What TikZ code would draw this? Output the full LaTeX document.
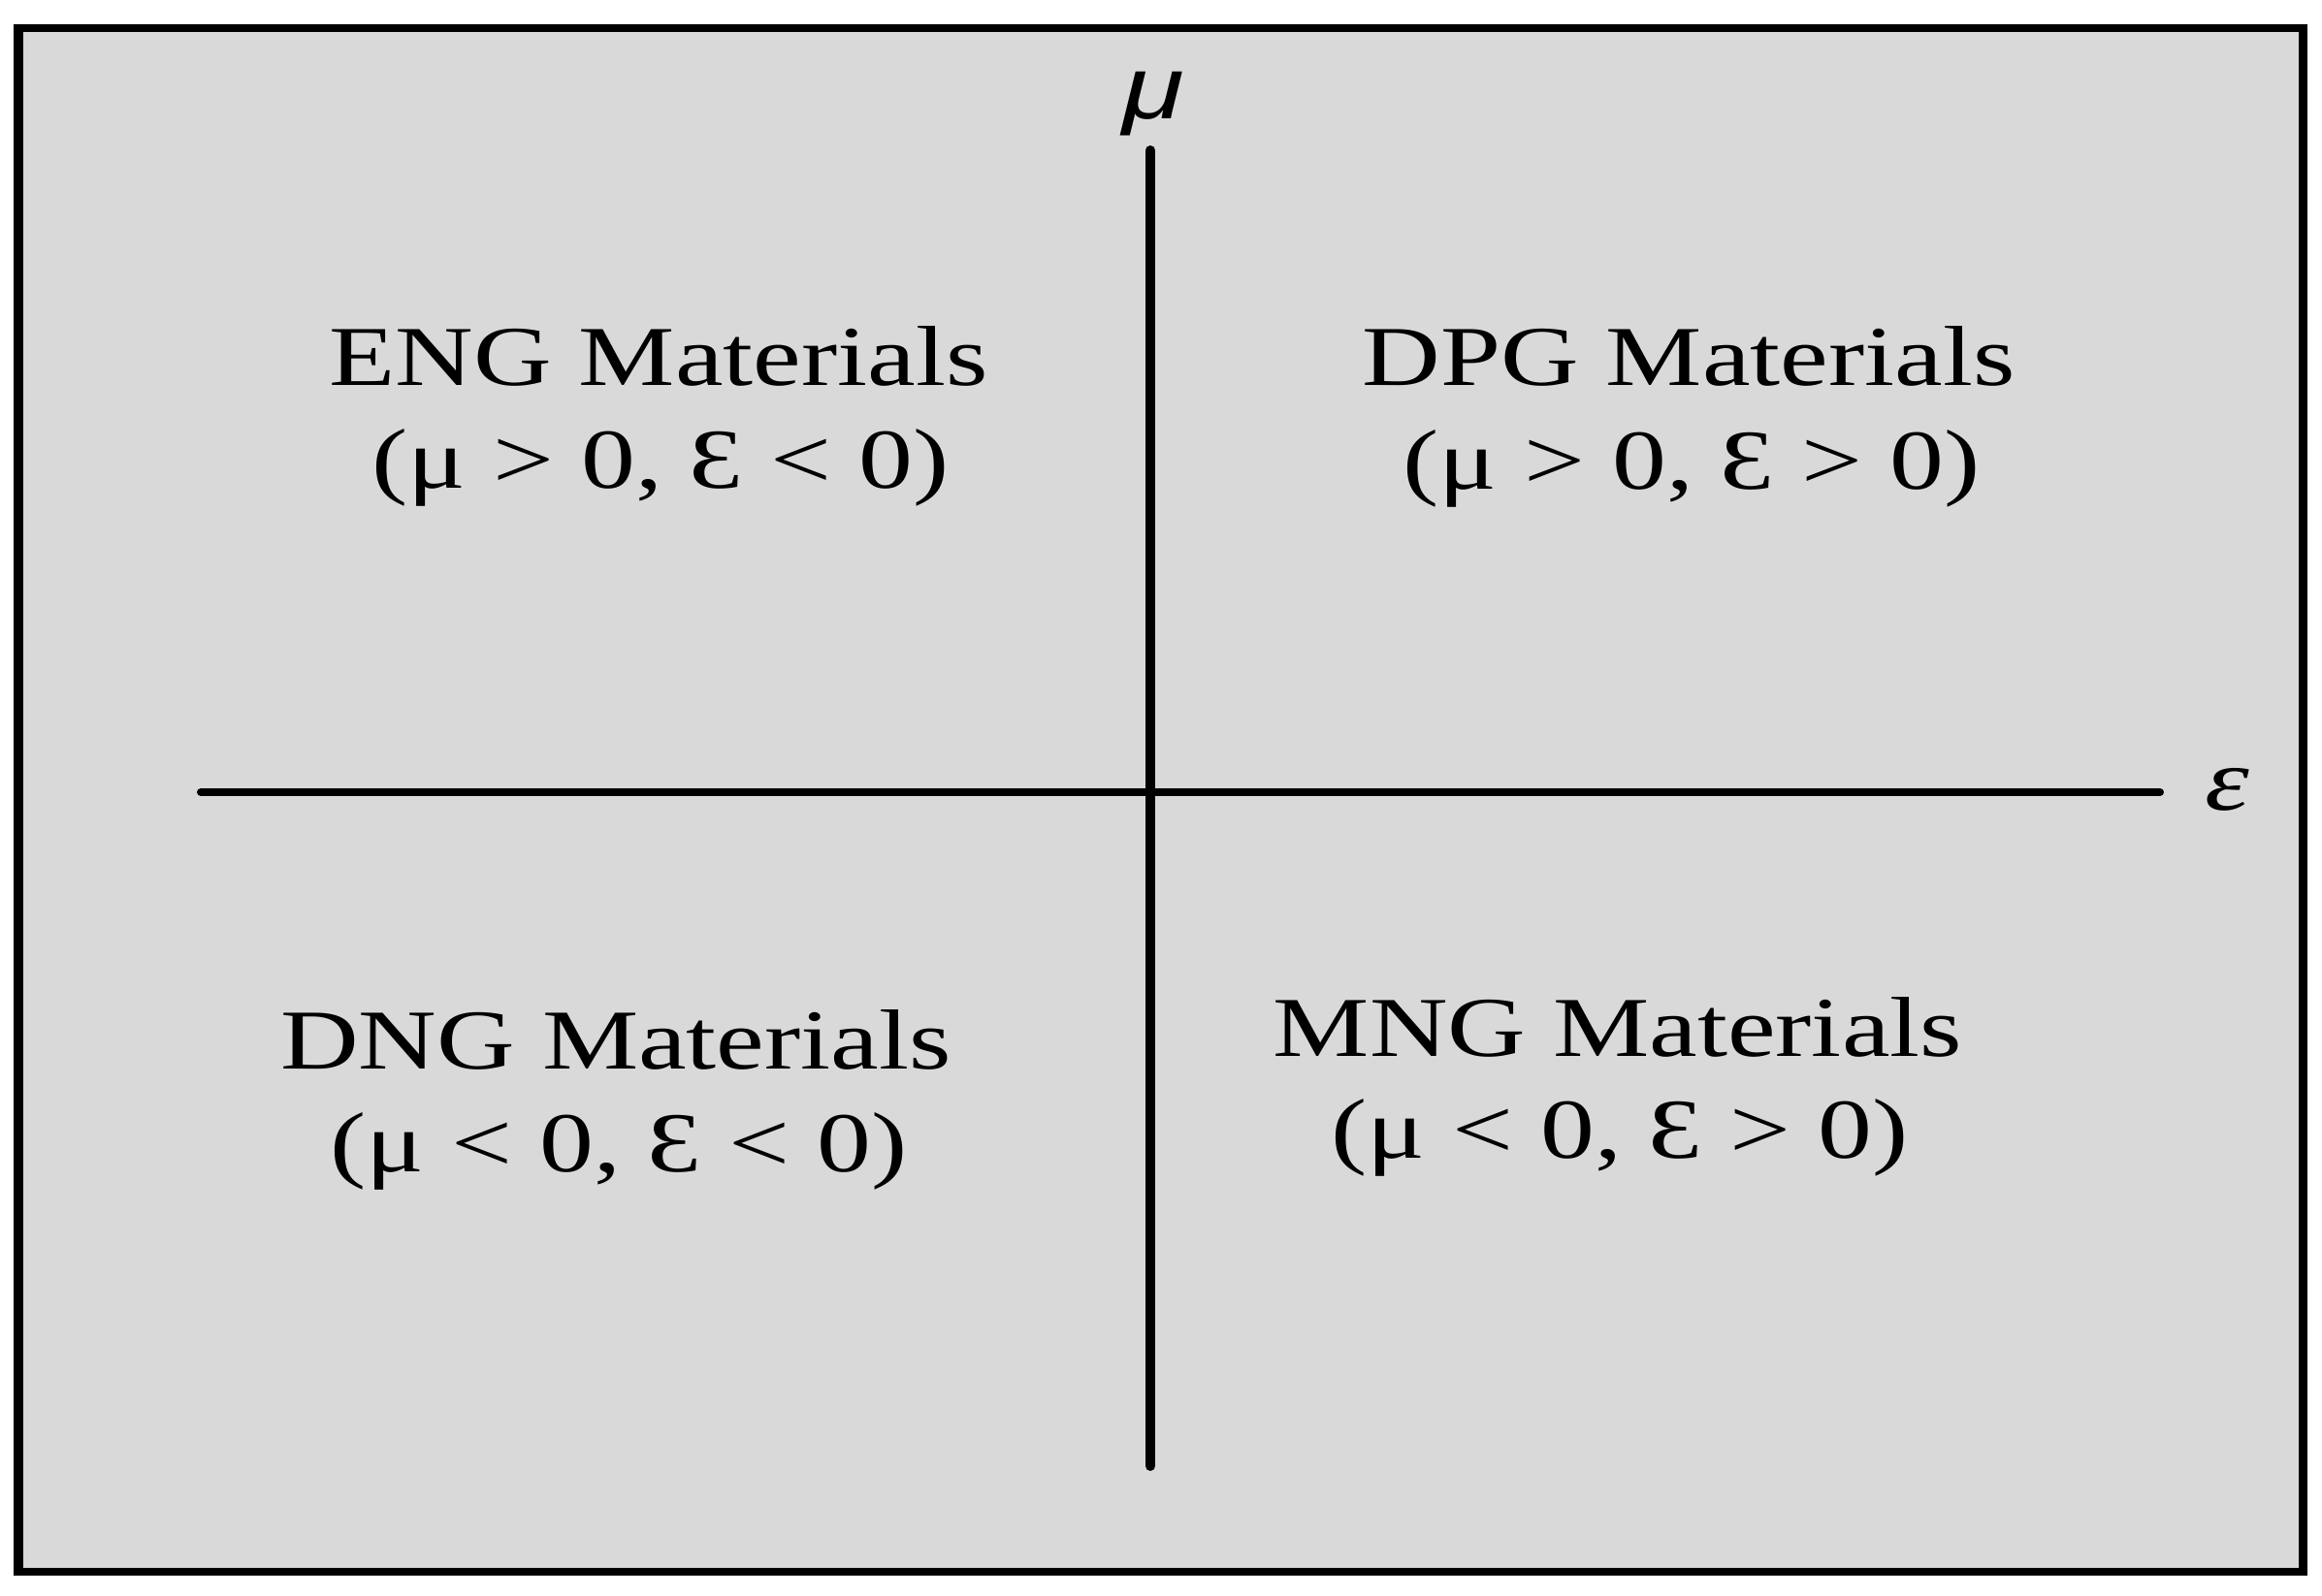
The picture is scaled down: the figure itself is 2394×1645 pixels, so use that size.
\documentclass[tikz,border=0pt]{standalone}
\usepackage{fontspec}
\setmainfont{Liberation Serif}
\newfontfamily\axsans{Liberation Sans}
\definecolor{panel}{HTML}{D9D9D9}
\begin{document}
\begin{tikzpicture}[x=0.01cm,y=-0.01cm,
  lbl/.style={font=\fontsize{25}{30}\selectfont, inner sep=0pt, anchor=base, xscale=1.27},
  axlbl/.style={font=\fontsize{25}{30}\selectfont, inner sep=0pt, anchor=base, xscale=1.27},
  axisv/.style={line width=0.1cm, line cap=round},
  axish/.style={line width=0.08cm, line cap=round}]
\useasboundingbox (0,0) rectangle (2394,1645);
\fill[white] (0,0) rectangle (2394,1645);
\fill[black] (14,25) rectangle (2379,1625);
\fill[panel] (24,33) rectangle (2370,1617);
% axes
\coordinate (ytop) at (1186,155);
\coordinate (ybot) at (1186,1512);
\coordinate (xleft) at (207,817);
\coordinate (xright) at (2227,817);
\draw[axisv] (ytop) -- (ybot);
\draw[axish] (xleft) -- (xright);
\node[axlbl, font=\fontsize{26}{30}\selectfont\axsans\itshape] (mu) at (1189,122) {μ};
\node[axlbl, font=\fontsize{26}{30}\selectfont\itshape] (eps) at (2296,835) {ε};
% quadrant labels
\node[lbl] (eng1) at (679,397) {ENG Materials};
\node[lbl] (eng2) at (681,503) {(μ > 0, Ɛ < 0)};
\node[lbl] (dpg1) at (1741,397) {DPG Materials};
\node[lbl] (dpg2) at (1744,504) {(μ > 0, Ɛ > 0)};
\node[lbl] (dng1) at (635,1102) {DNG Materials};
\node[lbl] (dng2) at (638,1208) {(μ < 0, Ɛ < 0)};
\node[lbl] (mng1) at (1668,1089) {MNG Materials};
\node[lbl] (mng2) at (1670,1194) {(μ < 0, Ɛ > 0)};
\end{tikzpicture}
\end{document}
